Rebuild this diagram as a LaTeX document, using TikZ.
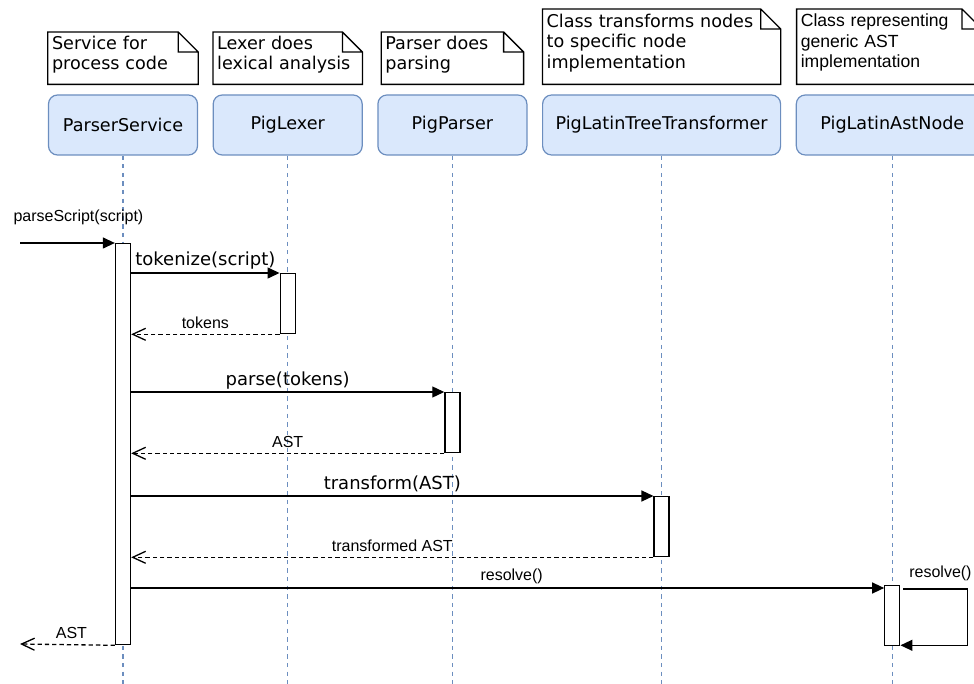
\documentclass[tikz,border=0pt]{standalone}
\usepackage{fontspec}
\setmainfont{DejaVu Sans}
\newfontfamily\arialfont{Liberation Sans}
\usetikzlibrary{arrows.meta,positioning}

\definecolor{headfill}{HTML}{DAE8FC}
\definecolor{headline}{HTML}{6C8EBF}

\newcommand{\boxfont}{\fontsize{17.6}{20.5}\selectfont}
\newcommand{\callfont}{\fontsize{18}{21}\selectfont}
\newcommand{\msgfont}{\arialfont\fontsize{16}{19}\selectfont}

\begin{document}
\begin{tikzpicture}[x=1pt,y=1pt,
  head/.style={draw=headline,fill=headfill,rounded corners=9pt,line width=1.2pt,
    minimum width=149pt,minimum height=60pt,font=\boxfont},
  note/.style={align=left,font=\boxfont,inner xsep=4pt},
  twolines/.style={text depth=31.7pt,minimum height=52pt},
  threelines/.style={text depth=52.2pt,minimum height=75pt},
  fold/.style={draw,line width=1.3pt,line join=miter},
  lifeline/.style={draw=headline,line width=1.2pt,dash pattern=on 4.3pt off 4.3pt},
  bar/.style={draw,fill=white,line width=1.3pt,minimum width=15pt,inner sep=0pt,anchor=north},
  call/.style={-{Triangle[length=12pt,width=11pt]},line width=1.3pt},
  reply/.style={-{Straight Barb[length=13pt,width=12pt]},line width=1.3pt,
    dash pattern=on 4.3pt off 3pt},
  calllbl/.style={font=\callfont,anchor=base,yshift=7pt},
  msglbl/.style={font=\msgfont,anchor=base,yshift=6pt}
]
  \clip (0,0) rectangle (974,-684);

  % lifeline heads
  \node[head] (svc) at (123,-125) {ParserService};
  \node[head,right=14.5pt of svc] (lex) {PigLexer};
  \node[head,right=14.5pt of lex] (par) {PigParser};
  \node[head,right=14.5pt of par,minimum width=238pt] (trf) {PigLatinTreeTransformer};
  \node[head,right=14.5pt of trf,minimum width=192pt] (ast) {PigLatinAstNode};

  % notes above the heads
  \node[note,twolines,above=10pt of svc,text width=142pt] (svcnote)
    {Service for\\process code};
  \node[note,twolines,above=10pt of lex,text width=141pt] (lexnote)
    {Lexer does\\lexical analysis};
  \node[note,twolines,above=10pt of par,text width=134pt] (parnote)
    {Parser does\\parsing};
  \node[note,threelines,above=10pt of trf,text width=230pt] (trfnote)
    {Class transforms nodes\\to specific node\\implementation};
  \node[note,threelines,above=10pt of ast,xshift=-3pt,text width=177pt,
    font=\arialfont\boxfont] (astnote)
    {Class representing\\generic AST\\implementation};
  \foreach \n in {svcnote,lexnote,parnote,trfnote,astnote}
    \draw[fold] (\n.north west) -- ([xshift=-20pt]\n.north east)
      -- ([yshift=-20pt]\n.north east) -- (\n.south east) -- (\n.south west) -- cycle
      ([xshift=-20pt]\n.north east) -- ++(0,-20) -- ++(20,0);

  % lifelines
  \foreach \n in {svc,lex,par,trf,ast}
    \draw[lifeline] (\n.south) -- (\n.south |- 0,-684);

  % activation bars
  \node[bar,minimum height=401pt] (svcbar) at (svc.south |- 0,-243) {};
  \node[bar,minimum height=60pt] (lexbar) at (lex.south |- 0,-273) {};
  \node[bar,minimum height=60pt] (parbar) at (par.south |- 0,-392) {};
  \node[bar,minimum height=60pt] (trfbar) at (trf.south |- 0,-496) {};
  \node[bar,minimum height=60pt] (astbar) at (ast.south |- 0,-585) {};

  % messages
  \coordinate (caller) at (20,-243);
  \coordinate (exit) at (20,-644);
  \draw[call] (caller) -- (svcbar.north west)
    node[msglbl,midway,xshift=11pt,yshift=15pt] {parseScript(script)};
  \draw[call] (svcbar.east |- lexbar.north west) -- (lexbar.north west)
    node[calllbl,midway] {tokenize(script)};
  \draw[reply] (lexbar.south west) -- (lexbar.south west -| svcbar.east)
    node[msglbl,midway] {tokens};
  \draw[call] (svcbar.east |- parbar.north west) -- (parbar.north west)
    node[calllbl,midway] {parse(tokens)};
  \draw[reply] (parbar.south west) -- (parbar.south west -| svcbar.east)
    node[msglbl,midway] {AST};
  \draw[call] (svcbar.east |- trfbar.north west) -- (trfbar.north west)
    node[calllbl,midway] {transform(AST)};
  \draw[reply] (trfbar.south west) -- (trfbar.south west -| svcbar.east)
    node[msglbl,midway] {transformed AST};
  \draw[call] ([yshift=-3pt]astbar.north west -| svcbar.east) -- ([yshift=-3pt]astbar.north west)
    node[msglbl,midway,xshift=4pt,yshift=2pt] {resolve()};
  \draw[call] ([shift={(3pt,-4pt)}]astbar.north east) -- ++(64,0)
    node[msglbl,midway,xshift=5pt,yshift=6pt] {resolve()}
    |- ([yshift=1pt]astbar.south east);
  \draw[reply] (svcbar.south west) -- (exit)
    node[msglbl,midway,xshift=4pt] {AST};
\end{tikzpicture}
\end{document}
